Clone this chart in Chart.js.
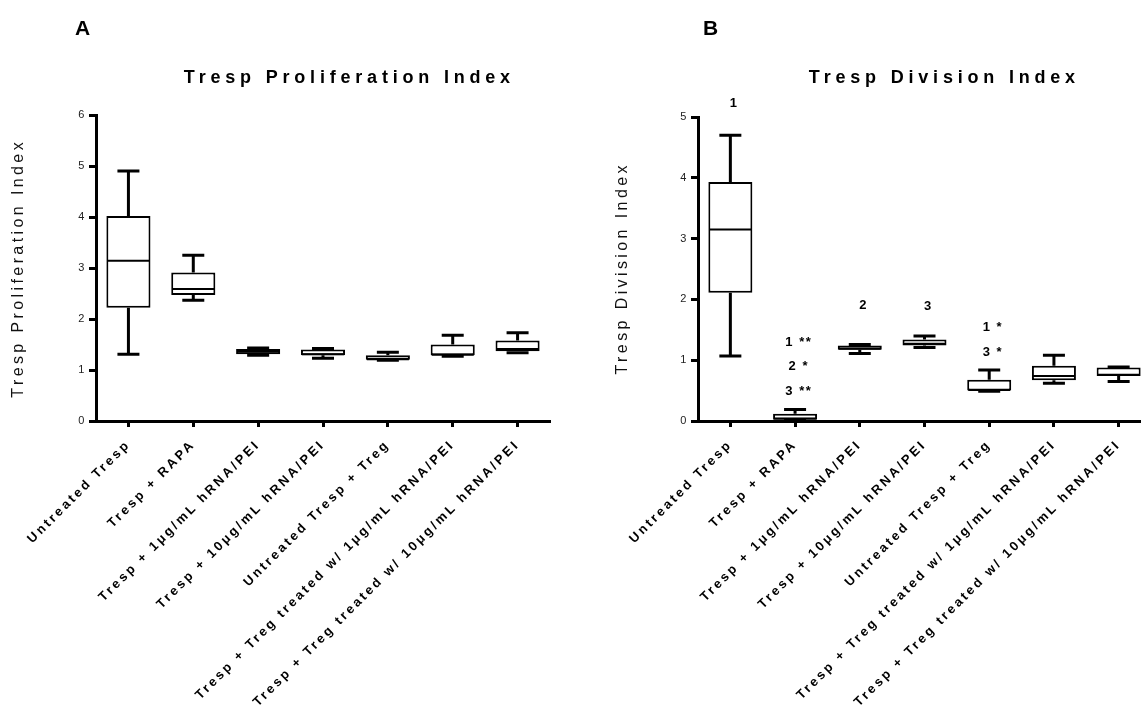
<!DOCTYPE html>
<html>
<head>
<meta charset="utf-8">
<title>Tresp Proliferation / Division Index</title>
<script src="https://cdn.jsdelivr.net/npm/chart.js@4.4.1/dist/chart.umd.min.js"></script>
<style>
  html, body { margin: 0; padding: 0; background: #fff; overflow: hidden; }
  #page { position: relative; width: 1141px; height: 711px; overflow: hidden; background: #fff; }
  .panel { position: absolute; top: 0; }
  #panelA { left: 0; }
  #panelB { left: 570px; }
</style>
</head>
<body>
<div id="page">
  <div class="panel" id="panelA"><canvas id="prolifChart" width="570" height="711"></canvas></div>
  <div class="panel" id="panelB"><canvas id="divisionChart" width="600" height="711"></canvas></div>
</div>
<script>
// Treatment groups (same order in both panels)
const groups = [
    'Untreated Tresp',
    'Tresp + RAPA',
    'Tresp + 1\u03bcg/mL hRNA/PEI',
    'Tresp + 10\u03bcg/mL hRNA/PEI',
    'Untreated Tresp + Treg',
    'Tresp + Treg treated w/ 1\u03bcg/mL hRNA/PEI',
    'Tresp + Treg treated w/ 10\u03bcg/mL hRNA/PEI'
];

// Panel A - proliferation index, min / Q1 / median / Q3 / max
const prolifMin    = [1.31, 2.37, 1.29, 1.23, 1.19, 1.27, 1.34];
const prolifQ1     = [2.22, 2.47, 1.31, 1.29, 1.20, 1.29, 1.37];
const prolifMedian = [3.14, 2.59, 1.36, 1.31, 1.21, 1.30, 1.41];
const prolifQ3     = [4.02, 2.91, 1.41, 1.40, 1.29, 1.50, 1.58];
const prolifMax    = [4.90, 3.25, 1.43, 1.42, 1.35, 1.68, 1.73];

// Panel B - division index, min / Q1 / median / Q3 / max
const divMin    = [1.07, 0.01, 1.11, 1.21, 0.49, 0.62, 0.65];
const divQ1     = [2.11, 0.02, 1.17, 1.24, 0.50, 0.67, 0.74];
const divMedian = [3.15, 0.04, 1.19, 1.27, 0.51, 0.74, 0.76];
const divQ3     = [3.93, 0.12, 1.24, 1.34, 0.68, 0.91, 0.88];
const divMax    = [4.70, 0.19, 1.26, 1.40, 0.84, 1.08, 0.89];

// Significance marks on panel B: group index, height (index units), text
const noteGroup = [0, 2, 3, 1, 1, 1, 4, 4];
const noteValue = [5.23, 1.90, 1.89, 1.30, 0.89, 0.48, 1.54, 1.12];
const noteText  = ['1', '2', '3', '1 **', '2 *', '3 **', '1 *', '3 *'];

const yTicksA = [0, 1, 2, 3, 4, 5, 6];
const yTicksB = [0, 1, 2, 3, 4, 5];

const FONT = "'Liberation Sans', Arial, Helvetica, sans-serif";
Chart.defaults.font.family = FONT;
Chart.defaults.color = '#000';

// Draw text with canvas letter spacing, centred on x (trailing gap removed)
function spacedText(ctx, text, x, y, spacing) {
    ctx.letterSpacing = spacing + 'px';
    const w = ctx.measureText(text).width - spacing;
    ctx.textAlign = 'left';
    ctx.fillText(text, x - w / 2, y);
}

// Whiskers, caps and median line on top of the floating bars
function boxWhiskerPlugin(mins, medians, maxes, q1s, q3s) {
    return {
        id: 'boxWhiskers',
        afterDatasetsDraw(chart) {
            const ctx = chart.ctx;
            const xs = chart.scales.x;
            const ys = chart.scales.y;
            const bars = chart.getDatasetMeta(0).data;
            ctx.save();
            ctx.strokeStyle = '#000';
            ctx.lineCap = 'butt';
            for (let i = 0; i < mins.length; i++) {
                const cx = xs.getPixelForValue(i);
                const half = bars[i].width / 2;
                const cap = 11;
                const yMin = ys.getPixelForValue(mins[i]);
                const yMax = ys.getPixelForValue(maxes[i]);
                const yQ1 = ys.getPixelForValue(q1s[i]);
                const yQ3 = ys.getPixelForValue(q3s[i]);
                const yMed = ys.getPixelForValue(medians[i]);

                ctx.lineWidth = 3;
                ctx.beginPath();
                ctx.moveTo(cx, yQ3);
                ctx.lineTo(cx, yMax);
                ctx.moveTo(cx - cap, yMax);
                ctx.lineTo(cx + cap, yMax);
                ctx.moveTo(cx, yQ1);
                ctx.lineTo(cx, yMin);
                ctx.moveTo(cx - cap, yMin);
                ctx.lineTo(cx + cap, yMin);
                ctx.stroke();

                ctx.lineWidth = 2;
                ctx.beginPath();
                ctx.moveTo(cx - half + 1, yMed);
                ctx.lineTo(cx + half - 1, yMed);
                ctx.stroke();
            }
            ctx.restore();
        }
    };
}

// Panel letter, chart title, y-axis title and optional significance marks
function panelTextPlugin(cfg) {
    return {
        id: 'panelText',
        beforeDraw(chart) {
            // spaced-out tick labels, as in the original export
            chart.ctx.letterSpacing = '2.7px';
        },
        afterDraw(chart) {
            const ctx = chart.ctx;
            ctx.save();
            ctx.fillStyle = '#000';
            ctx.textBaseline = 'alphabetic';

            ctx.font = 'bold 21px ' + FONT;
            ctx.letterSpacing = '0px';
            ctx.textAlign = 'left';
            ctx.fillText(cfg.letter, cfg.letterX, 35);

            ctx.font = 'bold 18px ' + FONT;
            spacedText(ctx, cfg.title, cfg.titleX, 83, 4.8);

            ctx.save();
            ctx.translate(cfg.yTitleX, 270);
            ctx.rotate(-Math.PI / 2);
            ctx.font = '16px ' + FONT;
            ctx.textBaseline = 'middle';
            ctx.fillStyle = '#111';
            spacedText(ctx, cfg.yTitle, 0, 0, 3.4);
            ctx.restore();

            if (cfg.notes) {
                const xs = chart.scales.x;
                const ys = chart.scales.y;
                ctx.font = 'bold 13px ' + FONT;
                ctx.textBaseline = 'middle';
                cfg.notes.group.forEach((g, k) => {
                    spacedText(ctx, cfg.notes.text[k], xs.getPixelForValue(g) + 3, ys.getPixelForValue(cfg.notes.value[k]), 1.5);
                });
            }
            ctx.restore();
        }
    };
}

function buildBoxChart(canvasId, opts) {
    const ctx = document.getElementById(canvasId).getContext('2d');
    return new Chart(ctx, {
        type: 'bar',
        data: {
            labels: groups,
            datasets: [{
                data: opts.q1.map((v, i) => [v, opts.q3[i]]),
                backgroundColor: '#fff',
                borderColor: '#000',
                borderWidth: 2,
                borderSkipped: false,
                barPercentage: 0.68,
                categoryPercentage: 1
            }]
        },
        options: {
            responsive: false,
            animation: false,
            events: [],
            layout: {
                padding: { top: opts.top, right: opts.right, left: 0, bottom: 0 }
            },
            plugins: {
                legend: { display: false },
                tooltip: { enabled: false },
                title: { display: false }
            },
            scales: {
                x: {
                    ticks: {
                        autoSkip: false,
                        maxRotation: 45,
                        minRotation: 45,
                        padding: 10,
                        color: '#000',
                        font: { size: 13, weight: 'bold' }
                    },
                    grid: {
                        offset: false,
                        drawOnChartArea: false,
                        tickLength: 6,
                        tickWidth: 3,
                        tickColor: '#000'
                    },
                    border: { display: true, color: '#000', width: 3 },
                    afterFit(scale) { scale.height = 290; }
                },
                y: {
                    min: opts.yTicks[0],
                    max: opts.yTicks[opts.yTicks.length - 1],
                    afterBuildTicks(scale) {
                        scale.ticks = opts.yTicks.map(v => ({ value: v }));
                    },
                    ticks: {
                        padding: 2,
                        color: '#222',
                        font: { size: 11 }
                    },
                    grid: {
                        drawOnChartArea: false,
                        tickLength: 7,
                        tickWidth: 3,
                        tickColor: '#000'
                    },
                    border: { display: true, color: '#000', width: 3 },
                    afterFit(scale) { scale.width = opts.yWidth; }
                }
            }
        },
        plugins: [
            boxWhiskerPlugin(opts.min, opts.median, opts.max, opts.q1, opts.q3),
            panelTextPlugin(opts.text)
        ]
    });
}

buildBoxChart('prolifChart', {
    min: prolifMin, q1: prolifQ1, median: prolifMedian, q3: prolifQ3, max: prolifMax,
    yTicks: yTicksA,
    top: 115, right: 20, yWidth: 96,
    text: {
        letter: 'A', letterX: 75,
        title: 'Tresp Proliferation Index', titleX: 347,
        yTitle: 'Tresp Proliferation Index', yTitleX: 19
    }
});

buildBoxChart('divisionChart', {
    min: divMin, q1: divQ1, median: divMedian, q3: divQ3, max: divMax,
    yTicks: yTicksB,
    top: 117, right: 19, yWidth: 128,
    text: {
        letter: 'B', letterX: 133,
        title: 'Tresp Division Index', titleX: 372,
        yTitle: 'Tresp Division Index', yTitleX: 53,
        notes: { group: noteGroup, value: noteValue, text: noteText }
    }
});
</script>
</body>
</html>
